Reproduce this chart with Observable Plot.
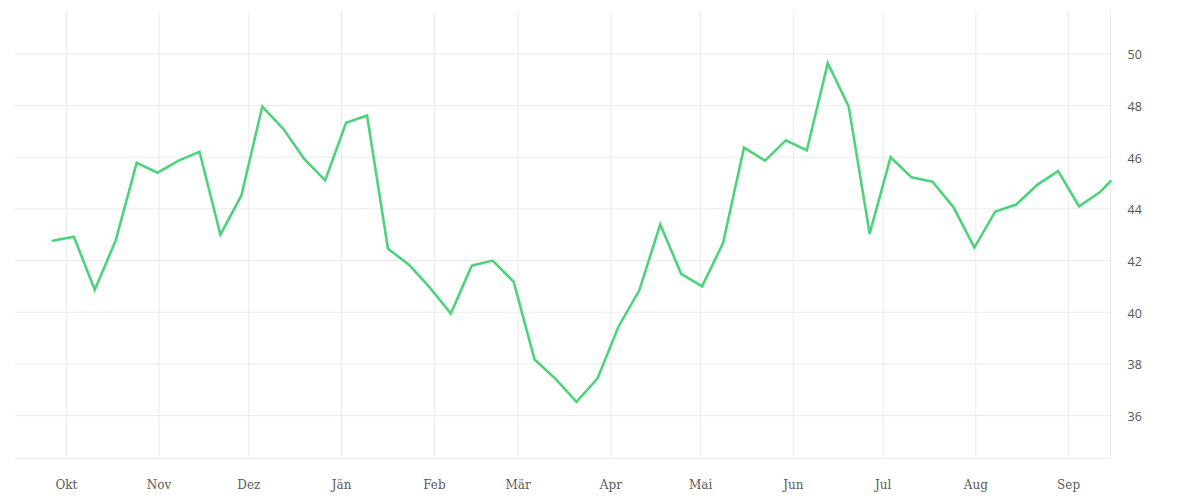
<!DOCTYPE html>
<html><head><meta charset="utf-8">
<script src="https://cdn.jsdelivr.net/npm/d3@7"></script>
<script src="https://cdn.jsdelivr.net/npm/@observablehq/plot@0.6"></script>
<style>body{margin:0;background:#fff}</style>
</head><body><div id="chart"></div>
<script>
// Data
const firstWeek = "2022-09-26T12:00:00Z";
const weeklyValues = [
  42.77, 42.92, 40.87, 42.78, 45.78, 45.40, 45.87, 46.21, 43.00, 44.52,
  47.96, 47.10, 45.93, 45.10, 47.33, 47.61, 42.46, 41.84, 40.95, 39.95,
  41.80, 42.00, 41.18, 38.17, 37.42, 36.53, 37.43, 39.43, 40.85, 43.40,
  41.49, 41.00, 42.68, 46.37, 45.87, 46.65, 46.26, 49.64, 47.96, 43.04,
  46.00, 45.22, 45.05, 44.07, 42.50, 43.90, 44.17, 44.93, 45.46, 44.10,
  44.65
];
const lastDate = "2023-09-15T00:00:00Z";
const lastValue = 45.07;
const monthLabels = ["Okt","Nov","Dez","Jän","Feb","Mär","Apr","Mai","Jun","Jul","Aug","Sep"];
const monthStarts = ["2022-10-01","2022-11-01","2022-12-01","2023-01-01","2023-02-01","2023-03-01",
  "2023-04-01","2023-05-01","2023-06-01","2023-07-01","2023-08-01","2023-09-01"];
const yTicks = [36, 38, 40, 42, 44, 46, 48, 50];
const xDomain = ["2022-09-14", "2023-09-15"];
const yDomain = [34.34, 51.6];

const start = new Date(firstWeek);
const data = weeklyValues.map((v, i) => ({date: d3.utcDay.offset(start, 7 * i), value: v}));
data.push({date: new Date(lastDate), value: lastValue});
const monthDates = monthStarts.map(s => new Date(s + "T00:00:00Z"));
const xDom = xDomain.map(s => new Date(s + "T00:00:00Z"));

const gridColor = "#ebebeb";
const chart = Plot.plot({
  width: 1200,
  height: 500,
  marginLeft: 15,
  marginRight: 90,
  marginTop: 12,
  marginBottom: 42,
  x: {type: "utc", domain: xDom},
  y: {domain: yDomain},
  marks: [
    Plot.gridX(monthDates, {stroke: gridColor, strokeOpacity: 1}),
    Plot.gridY(yTicks, {stroke: gridColor, strokeOpacity: 1}),
    Plot.ruleX([xDom[1]], {stroke: gridColor}),
    Plot.ruleY([yDomain[0]], {stroke: gridColor}),
    Plot.axisX(monthDates, {
      tickSize: 0, tickPadding: 22, label: null,
      tickFormat: (d, i) => monthLabels[i],
      fontFamily: "DejaVu Serif", fontSize: 12, fill: "#5a5a5a"
    }),
    Plot.axisY(yTicks, {
      anchor: "right", tickSize: 0, tickPadding: 17, label: null,
      textAnchor: "start", dy: 1.5,
      fontFamily: "Open Sans", fontSize: 12.5, fill: "#555"
    }),
    Plot.line(data, {x: "date", y: "value", stroke: "#4cd37b", strokeWidth: 2.6, strokeLinejoin: "miter", strokeMiterlimit: 4})
  ]
});
document.getElementById("chart").append(chart);
</script>
</body></html>
